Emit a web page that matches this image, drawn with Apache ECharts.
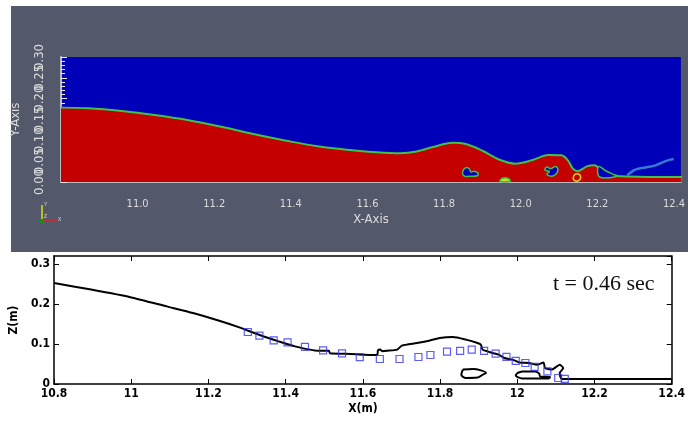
<!DOCTYPE html>
<html>
<head>
<meta charset="utf-8">
<script src="https://cdn.jsdelivr.net/npm/echarts@6/dist/echarts.min.js"></script>
<style>
  html, body { margin: 0; padding: 0; background: #ffffff; }
  #wrap { position: relative; width: 688px; height: 423px; overflow: hidden; }
  #panel { position: absolute; left: 11px; top: 6px; width: 677px; height: 246px; background: #53586b; }
  #chart { position: absolute; left: 0; top: 0; width: 688px; height: 423px; }
</style>
</head>
<body>
<div id="wrap"><div id="panel"></div><div id="chart"></div></div>
<script>
// ---- CFD snapshot (upper panel): free surface of the water column ----
const fieldSurfX = [10.80, 10.872, 10.958, 11.044, 11.130, 11.216, 11.302, 11.388, 11.474, 11.560,
  11.612, 11.685, 11.728, 11.771, 11.822, 11.857, 11.900, 11.943, 11.986, 12.029,
  12.072, 12.106, 12.123, 12.136, 12.148, 12.174, 12.192, 12.218, 12.261, 12.42];
const fieldSurfY = [0.1785, 0.177, 0.1705, 0.161, 0.149, 0.133, 0.115, 0.099, 0.085, 0.076,
  0.072, 0.069, 0.073, 0.084, 0.094, 0.091, 0.075, 0.054, 0.044, 0.052,
  0.065, 0.064, 0.052, 0.032, 0.026, 0.038, 0.040, 0.020, 0.014, 0.012];

// entrapped air pockets and spray inside the breaking region
const airPocketA = [[11.848, 0.020], [11.851, 0.030], [11.859, 0.035], [11.866, 0.031], [11.870, 0.024],
  [11.879, 0.026], [11.889, 0.021], [11.886, 0.015], [11.870, 0.014], [11.854, 0.014]];
const airPocketB = [[12.063, 0.029], [12.069, 0.036], [12.077, 0.032], [12.085, 0.035], [12.093, 0.037],
  [12.097, 0.028], [12.091, 0.018], [12.080, 0.014], [12.068, 0.019], [12.075, 0.025]];
const airPocketC = [[12.203, 0.037], [12.222, 0.027], [12.240, 0.019], [12.252, 0.014], [12.206, 0.012]];
const mixBlobA = [[11.946, 0.002], [11.950, 0.008], [11.960, 0.010], [11.970, 0.007], [11.972, 0.002]];
const mixBlobB = [[12.140, 0.004], [12.138, 0.014], [12.147, 0.020], [12.156, 0.014], [12.152, 0.004]];
const sprayX = [12.278, 12.292, 12.303, 12.326, 12.352, 12.378, 12.399];
const sprayY = [0.016, 0.026, 0.031, 0.035, 0.040, 0.050, 0.055];

// ---- profile comparison (lower panel) ----
const profileX = [10.80, 10.896, 11.0, 11.092, 11.160, 11.228, 11.280, 11.331, 11.382, 11.424,
  11.484, 11.512, 11.515, 11.569, 11.603, 11.637, 11.639, 11.645, 11.650, 11.663,
  11.689, 11.701, 11.740, 11.774, 11.799, 11.833, 11.867, 11.897, 11.906, 11.910,
  11.923, 11.936, 11.953, 11.966, 11.988, 12.005, 12.030, 12.052, 12.068, 12.072,
  12.089, 12.110, 12.119, 12.110, 12.115, 12.40];
const profileY = [0.2525, 0.236, 0.2165, 0.194, 0.1775, 0.158, 0.1415, 0.123, 0.1065, 0.094,
  0.083, 0.083, 0.077, 0.075, 0.073, 0.0725, 0.084, 0.086, 0.082, 0.083,
  0.086, 0.096, 0.1025, 0.109, 0.115, 0.1175, 0.111, 0.1025, 0.098, 0.086,
  0.0815, 0.0775, 0.073, 0.065, 0.061, 0.054, 0.0525, 0.048, 0.054, 0.040,
  0.036, 0.048, 0.040, 0.0275, 0.0125, 0.0125];
const bubbleOne = [[11.859, 0.036], [11.885, 0.0375], [11.906, 0.034], [11.919, 0.0275], [11.910, 0.023],
  [11.897, 0.016], [11.867, 0.015], [11.855, 0.023], [11.859, 0.036]];
const bubbleTwo = [[12.000, 0.0275], [12.013, 0.0315], [12.047, 0.0315], [12.057, 0.026], [12.059, 0.019],
  [12.085, 0.0175], [12.081, 0.014], [12.013, 0.014], [11.996, 0.021], [12.000, 0.0275]];
const measuredX = [11.302, 11.332, 11.369, 11.405, 11.450, 11.497, 11.546, 11.592, 11.644, 11.695,
  11.744, 11.775, 11.818, 11.852, 11.882, 11.914, 11.944, 11.972, 11.996, 12.021,
  12.045, 12.078, 12.106, 12.123];
const measuredY = [0.130, 0.121, 0.109, 0.104, 0.093, 0.084, 0.0765, 0.067, 0.0625, 0.0625,
  0.0675, 0.0725, 0.081, 0.083, 0.086, 0.083, 0.076, 0.068, 0.058, 0.0525,
  0.043, 0.0315, 0.015, 0.013];

const xTicksTop = [11.0, 11.2, 11.4, 11.6, 11.8, 12.0, 12.2, 12.4];
const yTicksTop = [0.00, 0.05, 0.10, 0.15, 0.20, 0.25, 0.30];
const timeLabel = 't = 0.46 sec';

const zip = (xs, ys) => xs.map((x, i) => [x, ys[i]]);

const WATER = '#c40000', AIR = '#0000b8', EDGE = '#3ec24a';
const PV_TEXT = '#dcdcdc';
const NARROW = '"Liberation Sans Narrow", "DejaVu Sans Condensed", "Liberation Sans", sans-serif';
const TOP_X_MIN = 10.8;

function polygon(name, pts, fill, stroke, xi, yi, lw) {
  return {
    type: 'custom', name, xAxisIndex: xi, yAxisIndex: yi, silent: true, z: 4,
    data: [pts[0]],
    renderItem: (params, api) => ({
      type: 'polygon',
      shape: { points: pts.map(p => api.coord(p)), smooth: 0.4 },
      style: { fill: fill, stroke: stroke, lineWidth: lw }
    })
  };
}

const chart = echarts.init(document.getElementById('chart'), null, { renderer: 'canvas' });

const boxAxis = {
  axisLine: { show: true, onZero: false, lineStyle: { color: '#000', width: 1.5 } },
  axisTick: { show: true, inside: true, length: 5, lineStyle: { color: '#000', width: 1 } },
  splitLine: { show: false }
};

chart.setOption({
  backgroundColor: 'transparent',
  animation: false,
  grid: [
    { left: 61, top: 57, width: 627, height: 125, show: true, backgroundColor: AIR, borderWidth: 0 },
    { left: 46, top: 256, width: 626, height: 128, show: false }
  ],
  xAxis: [
    {
      type: 'value', gridIndex: 0, min: TOP_X_MIN, max: 12.418, interval: 0.2,
      axisLine: { show: true, onZero: false, lineStyle: { color: '#b9b9c0', width: 2 } },
      axisTick: { show: true, inside: true, length: 6, lineStyle: { color: '#f2c8c8', width: 1 } },
      minorTick: { show: true, splitNumber: 10, length: 3, lineStyle: { color: '#f4e6e6', width: 1 } },
      splitLine: { show: false },
      axisLabel: {
        color: PV_TEXT, fontSize: 11, fontFamily: NARROW, margin: 17, showMaxLabel: false,
        formatter: v => xTicksTop.some(t => Math.abs(t - v) < 1e-6) ? v.toFixed(1) : ''
      },
      name: 'X-Axis', nameLocation: 'middle', nameGap: 31,
      nameTextStyle: { color: PV_TEXT, fontSize: 13, fontFamily: NARROW }
    },
    Object.assign({
      type: 'value', gridIndex: 1, min: 10.8, max: 12.4, interval: 0.2, position: 'bottom',
      axisLabel: {
        color: '#000', fontSize: 12, fontWeight: 'bold', fontFamily: NARROW, margin: 4,
        showMinLabel: true, showMaxLabel: true,
        formatter: v => String(Math.round(v * 10) / 10)
      },
      name: 'X(m)', nameLocation: 'middle', nameGap: 19,
      nameTextStyle: { color: '#000', fontSize: 12, fontWeight: 'bold', fontFamily: NARROW }
    }, boxAxis),
    Object.assign({
      type: 'value', gridIndex: 1, min: 10.8, max: 12.4, interval: 0.2, position: 'top',
      axisLabel: { show: false }
    }, boxAxis)
  ],
  yAxis: [
    {
      type: 'value', gridIndex: 0, min: 0, max: 0.3, interval: 0.05,
      axisLine: { show: true, onZero: false, lineStyle: { color: '#b9b9c0', width: 2 } },
      axisTick: { show: true, inside: true, length: 6, lineStyle: { color: '#f4eaea', width: 1 } },
      minorTick: { show: true, splitNumber: 5, length: 4, lineStyle: { color: '#f4eaea', width: 1 } },
      splitLine: { show: false },
      // tick labels are drawn by the rotated-label series below so they may overlap
      axisLabel: { show: false },
      name: 'Y-Axis', nameLocation: 'middle', nameGap: 39, nameRotate: 90,
      nameTextStyle: { color: PV_TEXT, fontSize: 13, fontFamily: NARROW }
    },
    Object.assign({
      type: 'value', gridIndex: 1, min: 0, max: 0.32, interval: 0.1, position: 'left',
      axisLabel: {
        color: '#000', fontSize: 12, fontWeight: 'bold', fontFamily: NARROW, margin: 4, showMaxLabel: false,
        formatter: v => String(Math.round(v * 10) / 10)
      },
      name: 'Z(m)', nameLocation: 'middle', nameGap: 24, nameRotate: 90,
      nameTextStyle: { color: '#000', fontSize: 12, fontWeight: 'bold', fontFamily: NARROW }
    }, boxAxis),
    Object.assign({
      type: 'value', gridIndex: 1, min: 0, max: 0.32, interval: 0.1, position: 'right',
      axisLabel: { show: false }
    }, boxAxis)
  ],
  graphic: [
    // orientation triad
    { type: 'line', shape: { x1: 42, y1: 205, x2: 42, y2: 221 }, style: { stroke: '#e6e000', lineWidth: 1.5 } },
    { type: 'line', shape: { x1: 42, y1: 221, x2: 58, y2: 221 }, style: { stroke: '#e02020', lineWidth: 1.5 } },
    { type: 'rect', shape: { x: 40, y: 219, width: 4, height: 4 }, style: { fill: '#1a8a1a' } },
    { type: 'text', left: 44, top: 202, style: { text: 'Y', fill: PV_TEXT, fontSize: 5 } },
    { type: 'text', left: 44, top: 214, style: { text: 'Z', fill: PV_TEXT, fontSize: 5 } },
    { type: 'text', left: 58, top: 217, style: { text: 'X', fill: PV_TEXT, fontSize: 5 } },
    {
      type: 'text', left: 553, top: 273,
      style: { text: timeLabel, fill: '#111', fontSize: 22, fontFamily: '"Liberation Serif", "Times New Roman", serif' }
    }
  ],
  series: [
    {
      type: 'line', xAxisIndex: 0, yAxisIndex: 0, data: zip(fieldSurfX, fieldSurfY),
      showSymbol: false, smooth: 0.35, silent: true, z: 2,
      lineStyle: { color: EDGE, width: 2 },
      areaStyle: { color: WATER, opacity: 1, origin: 'start' }
    },
    polygon('pocketA', airPocketA, AIR, EDGE, 0, 0, 1.5),
    polygon('pocketB', airPocketB, AIR, EDGE, 0, 0, 1.5),
    polygon('pocketC', airPocketC, AIR, EDGE, 0, 0, 1.5),
    polygon('mixA', mixBlobA, '#d8d820', '#2ec040', 0, 0, 1.5),
    polygon('mixB', mixBlobB, 'rgba(0,0,0,0)', '#e0d020', 0, 0, 1.5),
    {
      type: 'line', xAxisIndex: 0, yAxisIndex: 0, data: zip(sprayX, sprayY),
      showSymbol: false, smooth: 0.5, silent: true, z: 3,
      lineStyle: { color: '#3d8fd6', width: 2.5, opacity: 0.85 }
    },
    {
      // rotated Y tick labels of the field view (allowed to run into each other)
      type: 'custom', xAxisIndex: 0, yAxisIndex: 0, silent: true, clip: false, z: 5,
      data: yTicksTop.map(v => [TOP_X_MIN, v]),
      renderItem: (params, api) => {
        const p = api.coord([api.value(0), api.value(1)]);
        return {
          type: 'text', x: p[0] - 21, y: p[1], rotation: Math.PI / 2,
          style: {
            text: api.value(1).toFixed(2), fill: PV_TEXT, fontSize: 13, fontFamily: NARROW,
            align: 'center', verticalAlign: 'middle'
          }
        };
      }
    },
    {
      type: 'line', xAxisIndex: 1, yAxisIndex: 1, data: zip(profileX, profileY),
      showSymbol: false, smooth: 0.2, silent: true, z: 3,
      lineStyle: { color: '#000', width: 2 }
    },
    {
      type: 'line', xAxisIndex: 1, yAxisIndex: 1, data: bubbleOne,
      showSymbol: false, smooth: 0.3, silent: true, z: 3,
      lineStyle: { color: '#000', width: 2 }
    },
    {
      type: 'line', xAxisIndex: 1, yAxisIndex: 1, data: bubbleTwo,
      showSymbol: false, smooth: 0.3, silent: true, z: 3,
      lineStyle: { color: '#000', width: 2 }
    },
    {
      type: 'scatter', xAxisIndex: 1, yAxisIndex: 1, data: zip(measuredX, measuredY),
      symbol: 'rect', symbolSize: 7, silent: true, z: 4,
      itemStyle: { color: 'rgba(0,0,0,0)', borderColor: '#3434f0', borderWidth: 1.2 }
    }
  ]
});
</script>
</body>
</html>
